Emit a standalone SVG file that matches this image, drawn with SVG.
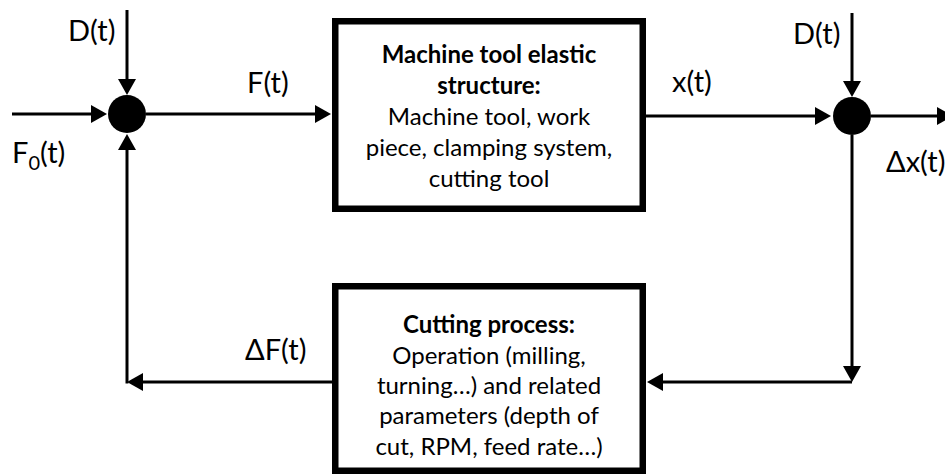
<svg xmlns="http://www.w3.org/2000/svg" width="945" height="474" viewBox="0 0 945 474">
  <style>
    .box { fill: #fff; stroke: #000; stroke-width: 6.5; }
    .wire { fill: none; stroke: #000; stroke-width: 3; }
    .junction { fill: #000; }
    .lbl { font-family: Lato, "Open Sans", sans-serif; font-size: 29px; fill: #000; }
    .txt { font-family: Lato, "Open Sans", sans-serif; font-size: 24px; fill: #000; text-anchor: middle; }
    .ttl { font-weight: bold; }
  </style>
  <defs>
    <marker id="arrow" viewBox="0 0 16 18" refX="8" refY="9" markerWidth="16" markerHeight="18" markerUnits="userSpaceOnUse" orient="auto">
      <path d="M0,0 L16,9 L0,18 z" fill="#000"/>
    </marker>
  </defs>
  <rect width="945" height="474" fill="#fff"/>

  <!-- signal connectors -->
  <g id="connectors">
    <path class="wire" d="M12,114 H99" marker-end="url(#arrow)"/>
    <path class="wire" d="M127,10 V87" marker-end="url(#arrow)"/>
    <path class="wire" d="M146,114 H323" marker-end="url(#arrow)"/>
    <path class="wire" d="M646,116 H823" marker-end="url(#arrow)"/>
    <path class="wire" d="M852,13 V89" marker-end="url(#arrow)"/>
    <path class="wire" d="M871,116 H945" marker-end="url(#arrow)"/>
    <path class="wire" d="M852,135 V374" marker-end="url(#arrow)"/>
    <path class="wire" d="M852,382 H655" marker-end="url(#arrow)"/>
    <path class="wire" d="M332,382 H135" marker-end="url(#arrow)"/>
    <path class="wire" d="M127,383.5 V142" marker-end="url(#arrow)"/>
    <text class="lbl" x="68" y="41">D(t)</text>
    <text class="lbl" x="12" y="163">F<tspan font-size="20" dy="7">0</tspan><tspan dy="-7">(t)</tspan></text>
    <text class="lbl" x="247" y="93">F(t)</text>
    <text class="lbl" x="672" y="92">x(t)</text>
    <text class="lbl" x="793" y="44">D(t)</text>
    <text class="lbl" x="886" y="172">Δx(t)</text>
    <text class="lbl" x="245" y="360">ΔF(t)</text>
  </g>

  <!-- summing junctions -->
  <g id="sum-input">
    <circle class="junction" cx="127" cy="114" r="19"/>
  </g>
  <g id="sum-output">
    <circle class="junction" cx="852" cy="116" r="19"/>
  </g>

  <!-- machine tool structure block -->
  <g id="structure">
    <rect class="box" x="335.25" y="21.25" width="307.5" height="187.5"/>
    <text class="txt ttl" x="489" y="63">Machine tool elastic</text>
    <text class="txt ttl" x="489" y="94">structure:</text>
    <text class="txt" x="489" y="125">Machine tool, work</text>
    <text class="txt" x="489" y="156">piece, clamping system,</text>
    <text class="txt" x="489" y="187">cutting tool</text>
  </g>

  <!-- cutting process block -->
  <g id="process">
    <rect class="box" x="335.25" y="286.25" width="307.5" height="184.5"/>
    <text class="txt ttl" x="489" y="333">Cutting process:</text>
    <text class="txt" x="489" y="364">Operation (milling,</text>
    <text class="txt" x="489" y="394">turning…) and related</text>
    <text class="txt" x="489" y="424">parameters (depth of</text>
    <text class="txt" x="489" y="455">cut, RPM, feed rate…)</text>
  </g>
</svg>
